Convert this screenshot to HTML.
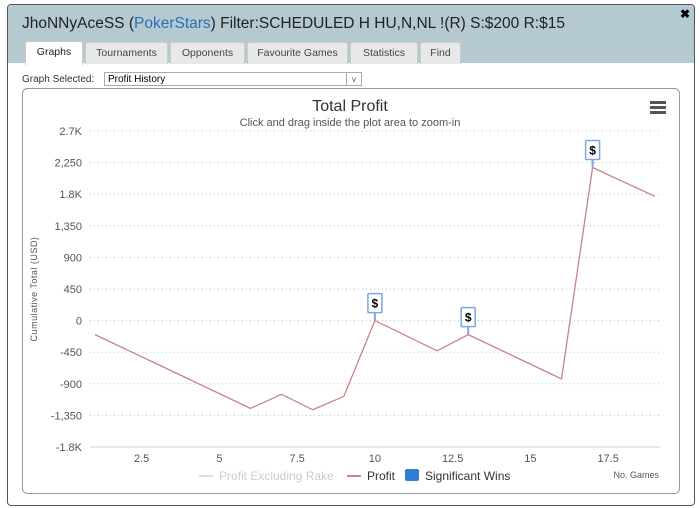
<!DOCTYPE html>
<html><head><meta charset="utf-8"><style>
body{margin:0;width:700px;height:508px;background:#fff;font-family:"Liberation Sans",sans-serif;position:relative;overflow:hidden}
.win{position:absolute;left:7px;top:4px;width:686px;height:500px;border:1px solid #555;border-radius:4px;background:#fff;overflow:hidden}
.hdr{position:absolute;left:0;top:0;width:100%;height:58px;background:#b5c9d1}
.ttl{position:absolute;left:14px;top:10px;font-size:15.5px;color:#222;white-space:nowrap}
.tab{position:absolute;top:37px;height:21px;background:#e8e8e8;border:1px solid #ccc;border-bottom:none;border-radius:3px 3px 0 0;font-size:10.5px;color:#444;text-align:center;line-height:21px}
.tab.act{background:#fff;top:36px;height:23px;color:#222}
</style></head><body>
<div class="win">
<div class="hdr">
<div class="ttl">JhoNNyAceSS (<span style="color:#2b6fb3">PokerStars</span>) Filter:SCHEDULED H HU,N,NL !(R) S:$200 R:$15</div>
<div style="position:absolute;right:4px;top:2px;font-size:12px;font-weight:bold">✖</div>
<div class="tab act" style="left:17px;width:56px">Graphs</div>
<div class="tab" style="left:77px;width:81px">Tournaments</div>
<div class="tab" style="left:162px;width:73px">Opponents</div>
<div class="tab" style="left:239px;width:99px">Favourite Games</div>
<div class="tab" style="left:342px;width:66px">Statistics</div>
<div class="tab" style="left:412px;width:39px">Find</div>
</div>
<div style="position:absolute;left:14px;top:69px;font-size:10px;color:#333">Graph Selected:</div>
<div style="position:absolute;left:96px;top:67px;width:258px;height:14px;border:1px solid #aaa;font-size:10px;line-height:14px;padding-left:3px;box-sizing:border-box;width:258px">Profit History<span style="position:absolute;right:0;top:0;width:14px;height:12px;border-left:1px solid #aaa;text-align:center;font-size:8px;color:#555">v</span></div>
</div>
<svg id="ch" width="700" height="508" style="position:absolute;left:0;top:0">
<rect x="22.5" y="88.5" width="657" height="405" rx="5" fill="#fff" stroke="#999"/>
</svg>
<script>
const categories=[1,2,3,4,5,6,7,8,9,10,11,12,13,14,15,16,17,18,19];
const profit=[-200,-410,-620,-830,-1040,-1250,-1050,-1270,-1080,0,-215,-430,-200,-410,-620,-830,2180,1975,1770];
const flagGames=[10,13,17];
const yTicks=[2700,2250,1800,1350,900,450,0,-450,-900,-1350,-1800];
const yTickLabels=["2.7K","2,250","1.8K","1,350","900","450","0","-450","-900","-1,350","-1.8K"];
const xTicks=[2.5,5,7.5,10,12.5,15,17.5];
const xTickLabels=["2.5","5","7.5","10","12.5","15","17.5"];
const svg=document.getElementById('ch');const NS='http://www.w3.org/2000/svg';
const L=90,R=660,T=131,B=447;
const xs=v=>95+(v-1)*31.1;
const ys=v=>B-(v+1800)/4500*(B-T);
function el(t,a,txt){const e=document.createElementNS(NS,t);for(const k in a)e.setAttribute(k,a[k]);if(txt!=null)e.textContent=txt;svg.appendChild(e);return e;}
let e;
e=el('text',{x:350,y:111,'text-anchor':'middle','font-size':16,fill:'#333'},'Total Profit');


e=el('text',{x:350,y:126,'text-anchor':'middle','font-size':11,fill:'#555'},'Click and drag inside the plot area to zoom-in');


for(let i=0;i<3;i++){e=el('rect',{x:650,y:101+i*5,width:16,height:3,fill:'#555'});}
yTicks.forEach((v,i)=>{
 if(i<yTicks.length-1){e=el('line',{x1:L,x2:R,y1:ys(v),y2:ys(v),stroke:'#bbb','stroke-dasharray':'1,3'});}
 e=el('text',{x:82,y:ys(v)+4,'text-anchor':'end','font-size':11,fill:'#555'},yTickLabels[i]);
 
 
});
e=el('line',{x1:L,x2:R,y1:B,y2:B,stroke:'#c0d0e0'});


xTicks.forEach((v,i)=>{
 e=el('text',{x:xs(v),y:462,'text-anchor':'middle','font-size':11,fill:'#555'},xTickLabels[i]);
 
 
});
e=el('text',{x:37,y:289,'text-anchor':'middle','font-size':9,fill:'#555',transform:'rotate(-90 37 289)','letter-spacing':'0.5'},'Cumulative Total (USD)');


e=el('text',{x:659,y:478,'text-anchor':'end','font-size':9,fill:'#555'},'No. Games');


e=el('polyline',{points:categories.map((c,i)=>xs(c)+','+ys(profit[i])).join(' '),fill:'none',stroke:'#c98585','stroke-width':1.3});


flagGames.forEach(g=>{
 const i=categories.indexOf(g);const x=xs(g),y=ys(profit[i]);
 e=el('line',{x1:x,x2:x,y1:y,y2:y-8,stroke:'#7aa7e0','stroke-width':2});
 
 
 e=el('rect',{x:x-7,y:y-27,width:14,height:19,fill:'#fff',stroke:'#7aa7e0','stroke-width':1.5,rx:1});
 
 
 e=el('text',{x:x,y:y-13,'text-anchor':'middle','font-size':12,'font-weight':'bold',fill:'#000'},'$');
 
 
});
e=el('line',{x1:199,x2:213,y1:476,y2:476,stroke:'#ddd','stroke-width':2});


e=el('text',{x:219,y:480,'font-size':12,fill:'#ccc'},'Profit Excluding Rake');


e=el('line',{x1:347,x2:361,y1:476,y2:476,stroke:'#c98585','stroke-width':2});


e=el('text',{x:367,y:480,'font-size':12,fill:'#333'},'Profit');


e=el('rect',{x:405,y:469,width:14,height:12,rx:2,fill:'#2f7ed8'});


e=el('text',{x:425,y:480,'font-size':12,fill:'#333'},'Significant Wins');


</script>
</body></html>
